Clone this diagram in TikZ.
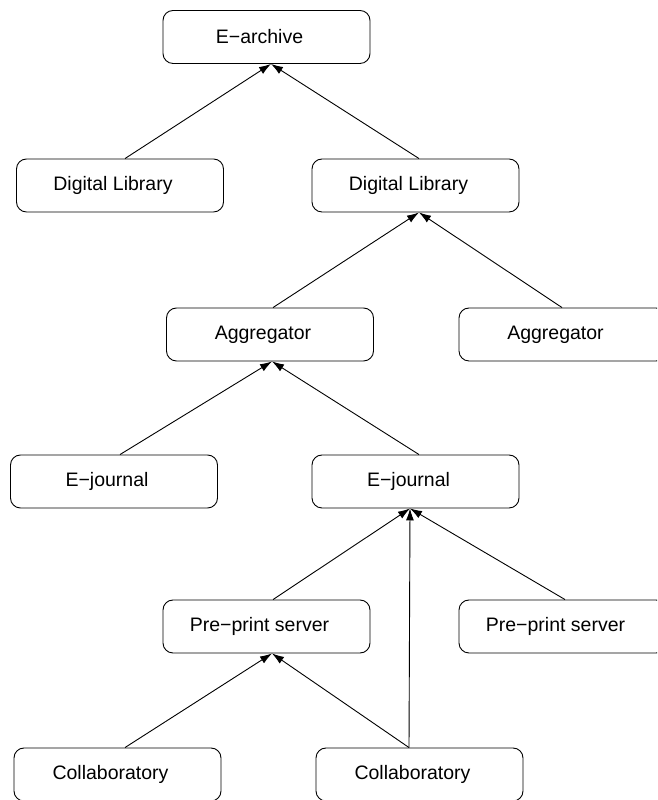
\documentclass[tikz,border=0pt]{standalone}
\usepackage{fontspec}
\setmainfont{Liberation Sans}
\usetikzlibrary{arrows.meta}
\newcommand{\pad}{\hbox to 14pt{}}
\begin{document}
\begin{tikzpicture}[x=1pt,y=1pt,
  box/.style={draw, line width=0.9pt, rounded corners=10pt,
    minimum width=207pt, minimum height=53pt, inner sep=0pt,
    font=\fontsize{19.5}{23}\selectfont},
  link/.style={line width=0.9pt, -{Latex[length=12pt,width=8pt]}}]
\useasboundingbox (0,0) rectangle (657,800);
\clip (0,0) rectangle (657,800);
% boxes, label pushed slightly left of centre
\node[box] (ea)  at (266.5,763)   {E−archive\pad};
\node[box] (dl1) at (120,614.5)   {Digital Library\pad};
\node[box] (dl2) at (415.5,614.5) {Digital Library\pad};
\node[box] (ag1) at (270,465.5)   {Aggregator\pad};
\node[box] (ag2) at (562.5,465.5) {Aggregator\pad};
\node[box] (ej1) at (114,318.5)   {E−journal\pad};
\node[box] (ej2) at (415.5,318.5) {E−journal\pad};
\node[box] (pp1) at (266.5,173.5) {Pre−print server\pad};
\node[box] (pp2) at (562.5,173.5) {Pre−print server\pad};
\node[box] (co1) at (117.5,25.5)  {Collaboratory\pad};
\node[box] (co2) at (419.5,25.5)  {Collaboratory\pad};
% connectors
\draw[link] ([xshift=5pt]dl1.north)    -- ([xshift=4.5pt]ea.south);
\draw[link] ([xshift=3.5pt]dl2.north)  -- ([xshift=4.5pt]ea.south);
\draw[link] ([xshift=3pt]ag1.north)    -- ([xshift=3.5pt]dl2.south);
\draw[link] ([xshift=-0.5pt]ag2.north) -- ([xshift=3.5pt]dl2.south);
\draw[link] ([xshift=6pt]ej1.north)    -- ([xshift=2pt]ag1.south);
\draw[link] ([xshift=3.5pt]ej2.north)  -- ([xshift=2pt]ag1.south);
\draw[link] ([xshift=6.5pt]pp1.north)  -- ([xshift=-5.5pt]ej2.south);
\draw[link] ([xshift=2.5pt]pp2.north)  -- ([xshift=-5.5pt]ej2.south);
\draw[link] ([xshift=-10.5pt]co2.north) -- ([xshift=-5.5pt]ej2.south);
\draw[link] ([xshift=7.5pt]co1.north)  -- ([xshift=5.5pt]pp1.south);
\draw[link] ([xshift=-10.5pt]co2.north) -- ([xshift=5.5pt]pp1.south);
\end{tikzpicture}
\end{document}
